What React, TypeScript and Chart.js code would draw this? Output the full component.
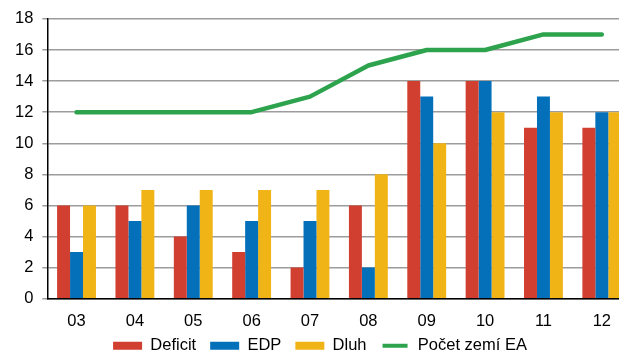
import { useEffect, useRef } from "react";
import { Chart, registerables } from "chart.js";

Chart.register(...registerables);

const years = ["03", "04", "05", "06", "07", "08", "09", "10", "11", "12"];
const deficit = [6, 6, 4, 3, 2, 6, 14, 14, 11, 11];
const edp = [3, 5, 6, 5, 5, 2, 13, 14, 13, 12];
const dluh = [6, 7, 7, 7, 7, 8, 10, 12, 12, 12];
const pocetZemi = [12, 12, 12, 12, 13, 15, 16, 16, 17, 17];

const FONT = "'Liberation Sans', Arial, sans-serif";
const SIZE = 16.5;
// how much vertical room the legend gives back to the plot
const LEGEND_LIFT = 20;

// Tightens the space between the x-axis labels and the legend row while
// keeping the wide horizontal spacing between legend items.
const compactLegend = {
  id: "compactLegend",
  beforeLayout(chart: any) {
    const lg = chart.legend;
    if (lg && !lg.__compact) {
      const fit = lg.fit.bind(lg);
      lg.fit = function () {
        fit();
        this.height = Math.max(0, this.height - LEGEND_LIFT);
      };
      lg.__compact = true;
    }
  },
  afterLayout(chart: any) {
    const lg = chart.legend;
    if (lg) {
      // move only the top edge up so the row is drawn higher but not clipped
      lg.top -= LEGEND_LIFT + 1;
    }
  },
};

export default function App() {
  const canvasRef = useRef<HTMLCanvasElement | null>(null);

  useEffect(() => {
    const canvas = canvasRef.current;
    if (!canvas) return;
    Chart.defaults.font.family = FONT;
    Chart.defaults.font.size = SIZE;
    Chart.defaults.color = "#000";

    const chart = new Chart(canvas, {
      type: "bar",
      data: {
        labels: years,
        datasets: [
          { label: "Deficit", data: deficit, backgroundColor: "#d13f31" },
          { label: "EDP", data: edp, backgroundColor: "#0570ba" },
          { label: "Dluh", data: dluh, backgroundColor: "#f0b416" },
          {
            type: "line",
            label: "Počet zemí EA",
            data: pocetZemi,
            borderColor: "#2ea34e",
            backgroundColor: "#2ea34e",
            borderWidth: 4.5,
            pointRadius: 0,
            borderCapStyle: "round",
            borderJoinStyle: "round",
          } as any,
        ],
      },
      options: {
        responsive: false,
        animation: false,
        devicePixelRatio: 1,
        datasets: {
          bar: { categoryPercentage: 0.666, barPercentage: 1 },
        },
        layout: { padding: { left: 9, right: 11, top: 18, bottom: 0 } },
        plugins: {
          tooltip: { enabled: false },
          legend: {
            position: "bottom",
            labels: {
              boxWidth: 29,
              boxHeight: 8,
              padding: 14,
              font: { size: SIZE, family: FONT },
              generateLabels: (c: any) => {
                const items = Chart.defaults.plugins.legend.labels.generateLabels(c);
                return items.map((it: any) => {
                  if (it.datasetIndex === 3) {
                    return { ...it, fillStyle: "#2ea34e", strokeStyle: "#ffffff", lineWidth: 4 };
                  }
                  return { ...it, lineWidth: 0 };
                });
              },
            },
          },
        },
        scales: {
          x: {
            grid: { display: false, drawTicks: false },
            border: { color: "#000", width: 1.5 },
            ticks: { padding: 13, font: { size: SIZE, family: FONT }, color: "#000" },
          },
          y: {
            min: 0,
            max: 18,
            ticks: { stepSize: 2, padding: 9, font: { size: SIZE, family: FONT }, color: "#000" },
            grid: { color: "#9c9c9c", lineWidth: 1.5, tickLength: 5, drawTicks: true },
            border: { color: "#000", width: 1.5 },
            afterFit: (scale: any) => {
              scale.width -= 3;
            },
          },
        },
      },
      plugins: [compactLegend],
    });
    return () => chart.destroy();
  }, []);

  return (
    <div
      style={{
        position: "fixed",
        left: 0,
        top: 0,
        width: 619,
        height: 352,
        overflow: "hidden",
        background: "#fff",
      }}
    >
      <canvas ref={canvasRef} width={642} height={365} style={{ display: "block" }} />
    </div>
  );
}
